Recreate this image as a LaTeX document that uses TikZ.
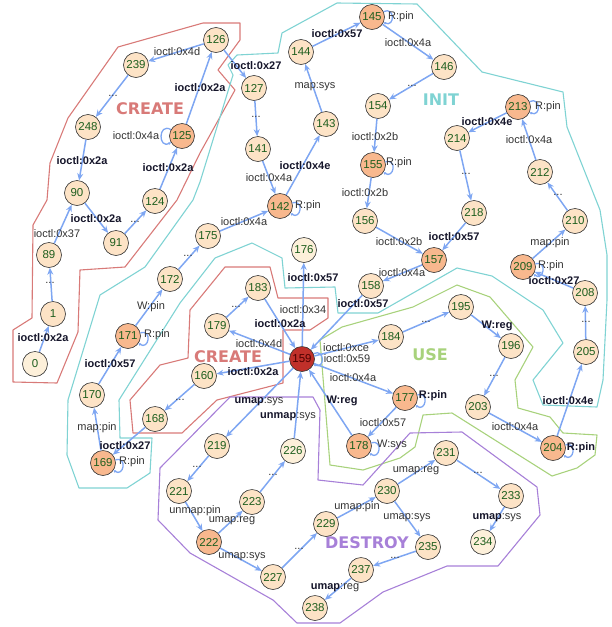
\documentclass[tikz,border=0pt]{standalone}
\usepackage{fontspec}
\setmainfont{Liberation Sans}
\newfontfamily\bigfont{DejaVu Sans}
\usetikzlibrary{arrows.meta}
\definecolor{ecol}{HTML}{7EA6F2}
\definecolor{nfill}{HTML}{FDE3C6}
\definecolor{hfill}{HTML}{F8B88E}
\definecolor{pfill}{HTML}{FDF0DA}
\definecolor{rfill}{HTML}{C0302A}
\definecolor{ntext}{HTML}{1E5E1E}
\definecolor{cred}{HTML}{D87A78}
\definecolor{ccyan}{HTML}{7FD3D3}
\definecolor{cgreen}{HTML}{A8D27C}
\definecolor{cpurple}{HTML}{A780D8}
\definecolor{ltext}{HTML}{333333}
\definecolor{btext}{HTML}{15152A}
\tikzset{
  nd/.style={circle, draw=black!80, line width=0.6pt, fill=nfill, minimum size=25pt, inner sep=0pt, text=ntext, font=\fontsize{11.5}{12}\selectfont},
  hot/.style={nd, fill=hfill},
  pale/.style={nd, fill=pfill},
  redn/.style={nd, fill=rfill, text={black!70!red}},
  e/.style={draw=ecol, line width=1.5pt, -{Stealth[length=7pt,width=6pt]}},
  lp/.style={draw=ecol, line width=1.3pt, -{Stealth[length=2.5pt,width=3pt]}, min distance=7pt, looseness=3},
  lb/.style={text=ltext, font=\fontsize{11}{12}\selectfont, inner sep=0pt},
  bl/.style={text=btext, font=\fontsize{11}{12}\selectfont\bfseries, inner sep=0pt},
  grp/.style={line width=1.1pt, line join=round},
  big/.style={font=\bigfont\bfseries\fontsize{16}{18}\selectfont, inner sep=0pt},
}
\begin{document}
\begin{tikzpicture}[x=1pt,y=-1pt]
\useasboundingbox (0,0) rectangle (612,627);
% group outlines
\draw[grp, cred] (118,47) -- (203,23) -- (240,23) -- (240,40) -- (218,70) -- (235,90) -- (200,153) -- (177,200) -- (125,267) -- (80,270) -- (78,332) -- (57,383) -- (13,382) -- (13,330) -- (32,318) -- (33,225) -- (47,200) -- (50,163) -- (68,118) -- cycle;
\draw[grp, ccyan] (600,210) -- (607,255) -- (607,300) -- (603,380) -- (597,407) -- (543,405) -- (533,380) -- (563,343) -- (543,310) -- (492,276) -- (457,268) -- (378,313) -- (338,313) -- (335,287) -- (285,288) -- (282,258) -- (252,243) -- (215,258) -- (180,303) -- (119,400) -- (120,438) -- (152,438) -- (150,473) -- (127,488) -- (79,488) -- (67,455) -- (68,400) -- (100,295) -- (145,267) -- (193,200) -- (200,182) -- (233,75) -- (228,65) -- (237,55) -- (278,53) -- (282,33) -- (337,3) -- (417,4) -- (482,72) -- (563,92) -- (567,127) -- cycle;
\draw[grp, cred] (133,433) -- (130,400) -- (160,365) -- (188,358) -- (190,310) -- (225,267) -- (270,267) -- (278,298) -- (328,298) -- (328,318) -- (310,330) -- (283,330) -- (283,383) -- (217,400) -- (182,433) -- cycle;
\draw[grp, cgreen] (320,340) -- (342,327) -- (413,307) -- (457,285) -- (490,297) -- (533,347) -- (515,380) -- (518,408) -- (550,417) -- (563,433) -- (597,435) -- (595,455) -- (577,468) -- (552,476) -- (452,413) -- (423,415) -- (415,447) -- (400,458) -- (363,470) -- (330,465) -- cycle;
\draw[grp, cpurple] (230,397) -- (313,397) -- (320,410) -- (318,480) -- (363,485) -- (410,433) -- (462,432) -- (537,487) -- (540,515) -- (498,566) -- (447,566) -- (383,592) -- (340,623) -- (297,623) -- (273,600) -- (190,553) -- (158,520) -- (160,468) -- cycle;
% group titles
\node[big, text=cred] (tcreate1) at (150,109) {CREATE};
\node[big, text=cred] (tcreate2) at (228,357) {CREATE};
\node[big, text=ccyan] (tinit) at (441,100) {INIT};
\node[big, text=cgreen] (tuse) at (430,355) {USE};
\node[big, text=cpurple] (tdestroy) at (367,543) {DESTROY};
% nodes
\node[pale] (n0) at (35,364) {0};
\node[nd] (n1) at (53,314) {1};
\node[nd] (n89) at (49,255) {89};
\node[nd] (n90) at (77,193) {90};
\node[nd] (n91) at (116,243) {91};
\node[nd] (n124) at (155,201) {124};
\node[hot] (n125) at (182,136) {125};
\node[nd] (n248) at (88,127) {248};
\node[nd] (n239) at (136,65) {239};
\node[nd] (n126) at (216,40) {126};
\node[nd] (n127) at (254,88) {127};
\node[nd] (n141) at (258,149) {141};
\node[hot] (n142) at (280,206) {142};
\node[nd] (n143) at (326,124) {143};
\node[nd] (n144) at (301,52) {144};
\node[hot] (n145) at (372,17) {145};
\node[nd] (n146) at (444,67) {146};
\node[nd] (n154) at (378,106) {154};
\node[hot] (n155) at (373,165) {155};
\node[nd] (n156) at (365,221) {156};
\node[hot] (n157) at (434,260) {157};
\node[nd] (n158) at (371,286) {158};
\node[nd] (n218) at (474,213) {218};
\node[nd] (n214) at (457,138) {214};
\node[hot] (n213) at (518,107) {213};
\node[nd] (n212) at (540,172) {212};
\node[nd] (n210) at (575,221) {210};
\node[hot] (n209) at (523,267) {209};
\node[nd] (n208) at (585,293) {208};
\node[nd] (n205) at (586,352) {205};
\node[hot] (n204) at (553,448) {204};
\node[nd] (n203) at (478,407) {203};
\node[nd] (n196) at (511,346) {196};
\node[nd] (n195) at (461,307) {195};
\node[nd] (n184) at (391,337) {184};
\node[hot] (n177) at (405,398) {177};
\node[hot] (n178) at (359,446) {178};
\node[redn] (n159) at (302,359) {159};
\node[pale] (n176) at (304,250) {176};
\node[nd] (n175) at (208,236) {175};
\node[nd] (n172) at (170,279) {172};
\node[hot] (n171) at (128,336) {171};
\node[nd] (n170) at (92,395) {170};
\node[hot] (n169) at (103,463) {169};
\node[nd] (n168) at (155,419) {168};
\node[nd] (n160) at (204,376) {160};
\node[nd] (n179) at (217,326) {179};
\node[nd] (n183) at (258,288) {183};
\node[nd] (n219) at (217,446) {219};
\node[nd] (n221) at (179,491) {221};
\node[hot] (n222) at (209,542) {222};
\node[nd] (n223) at (252,502) {223};
\node[pale] (n226) at (293,451) {226};
\node[nd] (n227) at (273,577) {227};
\node[nd] (n229) at (326,524) {229};
\node[nd] (n230) at (387,491) {230};
\node[nd] (n231) at (446,453) {231};
\node[nd] (n233) at (511,496) {233};
\node[pale] (n234) at (483,542) {234};
\node[nd] (n235) at (428,547) {235};
\node[nd] (n237) at (361,570) {237};
\node[nd] (n238) at (315,608) {238};
% edges
\foreach \a/\b in {0/1,1/89,89/90,90/91,91/124,124/125,125/126,126/239,239/248,248/90,126/127,
  127/141,141/142,142/143,143/144,144/145,145/146,146/154,154/155,155/156,156/157,218/157,157/158,158/159,
  214/218,213/214,212/213,210/212,209/210,208/209,205/208,204/205,175/142,172/175,171/172,170/171,169/170,168/169,
  159/176,159/160,160/168,159/179,179/183,183/159,159/184,184/195,195/196,196/203,203/204,159/177,177/178,178/159,
  159/219,219/221,221/222,222/223,223/226,226/159,222/227,227/229,229/230,230/231,231/233,233/234,230/235,235/237,237/238}
  \draw[e] (n\a) -- (n\b);
% self loops
\draw[lp] (n125) to[out=150,in=210] (n125);
\foreach \n in {142,155,209,171,169,177,178,204}
  \draw[lp] (n\n) to[out=15,in=-35] (n\n);
\foreach \n in {145,213,159}
  \draw[lp] (n\n) to[out=25,in=-25] (n\n);
% labels
\node[bl] (a1) at (43,338) {ioctl:0x2a};
\node[lb] (a2) at (50,283) {...};
\node[lb] (a3) at (57,234) {ioctl:0x37};
\node[bl] (a4) at (96,219) {ioctl:0x2a};
\node[lb] (a5) at (135,222) {...};
\node[bl] (a6) at (168,168) {ioctl:0x2a};
\node[lb] (a7) at (136,136) {ioctl:0x4a};
\node[bl] (a8) at (200,88) {ioctl:0x2a};
\node[lb] (a9) at (177,52) {ioctl:0x4d};
\node[lb] (a10) at (113,96) {...};
\node[bl] (a11) at (82,161) {ioctl:0x2a};
\node[bl] (a12) at (256,66) {ioctl:0x27};
\node[lb] (a13) at (256,117) {...};
\node[lb] (a14) at (269,178) {ioctl:0x4a};
\node[lb] (a15) at (308,206) {R:pin};
\node[bl] (a16) at (305,166) {ioctl:0x4e};
\node[lb] (a17) at (315,87) {map:sys};
\node[bl] (a18) at (337,34) {ioctl:0x57};
\node[lb] (a19) at (401,17) {R:pin};
\node[lb] (a20) at (408,43) {ioctl:0x4a};
\node[lb] (a21) at (412,86) {...};
\node[lb] (a22) at (375,137) {ioctl:0x2b};
\node[lb] (a23) at (399,163) {R:pin};
\node[lb] (a24) at (365,193) {ioctl:0x2b};
\node[lb] (a25) at (399,242) {ioctl:0x2b};
\node[bl] (a26) at (454,237) {ioctl:0x57};
\node[lb] (a27) at (402,273) {ioctl:0x4a};
\node[bl] (a28) at (363,304) {ioctl:0x57};
\node[lb] (a29) at (548,107) {R:pin};
\node[bl] (a30) at (487,122) {ioctl:0x4e};
\node[lb] (a31) at (529,140) {ioctl:0x4a};
\node[lb] (a32) at (466,174) {...};
\node[lb] (a33) at (558,195) {...};
\node[lb] (a34) at (550,243) {map:pin};
\node[lb] (a35) at (551,266) {R:pin};
\node[bl] (a36) at (554,281) {ioctl:0x27};
\node[lb] (a37) at (586,322) {...};
\node[bl] (a38) at (568,401) {ioctl:0x4e};
\node[lb] (a39) at (515,427) {ioctl:0x4a};
\node[bl] (a40) at (581,448) {R:pin};
\node[lb] (a41) at (494,376) {...};
\node[bl] (a42) at (497,326) {W:reg};
\node[lb] (a43) at (426,322) {...};
\node[lb] (a44) at (346,348) {ioctl:0xce};
\node[lb] (a45) at (347,359) {ioctl:0x59};
\node[lb] (a46) at (353,378) {ioctl:0x4a};
\node[bl] (a47) at (433,396) {R:pin};
\node[lb] (a48) at (383,423) {ioctl:0x57};
\node[lb] (a49) at (392,445) {W:sys};
\node[bl] (a50) at (342,401) {W:reg};
\node[lb] (a51) at (259,402) {\textbf{\color{btext}umap}:sys};
\node[lb] (a52) at (288,417) {\textbf{\color{btext}unmap}:sys};
\node[bl] (a53) at (313,278) {ioctl:0x57};
\node[lb] (a54) at (303,310) {ioctl:0x34};
\node[bl] (a55) at (280,324) {ioctl:0x2a};
\node[lb] (a56) at (236,307) {...};
\node[lb] (a57) at (259,344) {ioctl:0x4d};
\node[bl] (a58) at (253,372) {ioctl:0x2a};
\node[lb] (a59) at (244,222) {ioctl:0x4a};
\node[lb] (a60) at (188,256) {...};
\node[lb] (a61) at (151,307) {W:pin};
\node[lb] (a62) at (157,335) {R:pin};
\node[bl] (a63) at (110,364) {ioctl:0x57};
\node[lb] (a64) at (180,400) {...};
\node[lb] (a65) at (97,428) {map:pin};
\node[bl] (a66) at (125,446) {ioctl:0x27};
\node[lb] (a67) at (132,462) {R:pin};
\node[lb] (a68) at (197,467) {...};
\node[lb] (a69) at (273,475) {...};
\node[lb] (a70) at (195,511) {unmap:pin};
\node[lb] (a71) at (232,521) {umap:reg};
\node[lb] (a72) at (242,557) {umap:sys};
\node[lb] (a73) at (299,549) {...};
\node[lb] (a74) at (335,588) {\textbf{\color{btext}umap}:reg};
\node[lb] (a75) at (357,507) {umap:pin};
\node[lb] (a76) at (416,471) {umap:reg};
\node[lb] (a77) at (478,473) {...};
\node[lb] (a78) at (407,518) {umap:sys};
\node[lb] (a79) at (497,518) {\textbf{\color{btext}umap}:sys};
\node[lb] (a80) at (395,558) {...};
\end{tikzpicture}
\end{document}
